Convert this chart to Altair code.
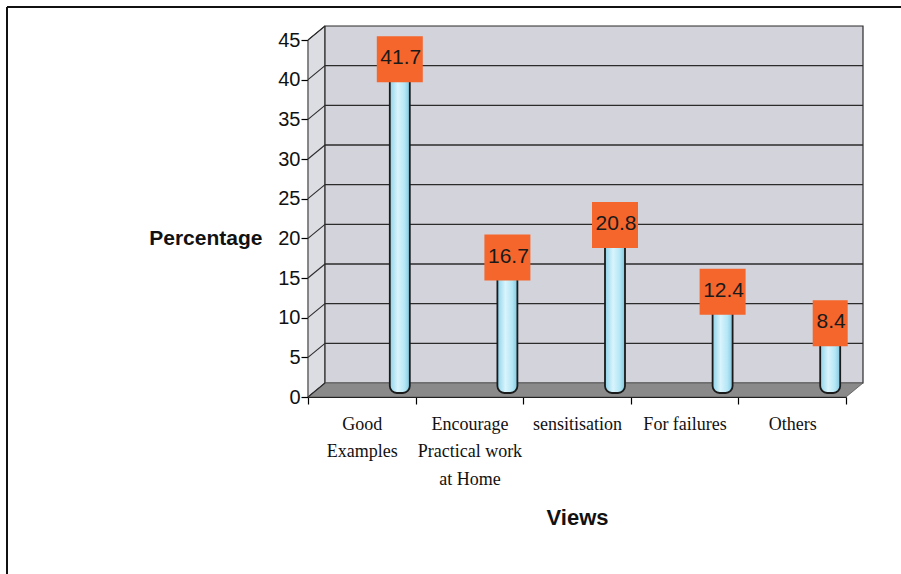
import json
import altair as alt
import pandas as pd

# ---- data -------------------------------------------------------------
categories = ["Good Examples", "Encourage Practical work at Home",
              "sensitisation", "For failures", "Others"]
label_lines = [["Good", "Examples"],
               ["Encourage", "Practical work", "at Home"],
               ["sensitisation"],
               ["For failures"],
               ["Others"]]
percentages = [41.7, 16.7, 20.8, 12.4, 8.4]
y_ticks = [0, 5, 10, 15, 20, 25, 30, 35, 40, 45]

# ---- geometry of the pseudo-3D box -------------------------------------
W, H = 538, 357           # plot area (front plane)
N = len(categories)
Y_MAX = 45
XU = W / N                # px per category slot
YU = H / Y_MAX            # px per percentage point
DEPTH_X, DEPTH_Y = 17, 14  # depth shift of the back wall, px
dxu, dyu = DEPTH_X / XU, DEPTH_Y / YU
BAR_SHIFT = 38            # bars sit toward the back-right of each slot
MID_Y = -DEPTH_Y / 2      # bars stand at mid depth

bars = pd.DataFrame({
    "category": categories,
    "pos": [i + 0.5 for i in range(N)],
    "value": percentages,
    "zero": [0] * N,
    "label": [f"{v:.1f}" for v in percentages],
})
ticks_df = pd.DataFrame({"v": y_ticks, "v2": [t + dyu for t in y_ticks],
                         "x0": [0] * len(y_ticks), "x1": [dxu] * len(y_ticks),
                         "xn": [N] * len(y_ticks)})
bounds_df = pd.DataFrame({"b": list(range(N + 1))})

x_scale = alt.Scale(domain=[0, N], nice=False, zero=False, padding=0)
y_scale = alt.Scale(domain=[0, Y_MAX], nice=False, padding=0)

SANS = "Liberation Sans"
SERIF = "Liberation Serif"
WALL = "#D3D3DB"
SIDE = "#DCDCE3"
FLOOR = "#8A8A8A"
EDGE = "#2b2b2b"
ORANGE = "#F5662D"

lookup = json.dumps(label_lines)

X = lambda f: alt.X(f, scale=x_scale, axis=None)
Y = lambda f: alt.Y(f, scale=y_scale, axis=None)

# left side wall (parallelogram)
side_wall = alt.Chart(pd.DataFrame({
    "x": [0, dxu], "y": [Y_MAX, Y_MAX + dyu], "y2": [0, dyu]
})).mark_area(color=SIDE, stroke=EDGE, strokeWidth=1).encode(
    x=X("x:Q"), y=Y("y:Q"), y2="y2:Q",
)

# back wall
back_wall = alt.Chart(pd.DataFrame({"x": [0], "x2": [N], "y": [0], "y2": [Y_MAX]})).mark_rect(
    color=WALL, stroke=EDGE, strokeWidth=1.2,
    xOffset=DEPTH_X, x2Offset=DEPTH_X, yOffset=-DEPTH_Y, y2Offset=-DEPTH_Y,
).encode(x=X("x:Q"), x2="x2:Q", y=Y("y:Q"), y2="y2:Q")

# floor
floor = alt.Chart(pd.DataFrame({
    "x": [0, dxu, N, N + dxu], "y": [0, dyu, dyu, dyu], "y2": [0, 0, 0, dyu]
})).mark_area(color=FLOOR, stroke="#555555", strokeWidth=0.8).encode(
    x=X("x:Q"), y=Y("y:Q"), y2="y2:Q",
)

# gridlines on the back wall
grid_back = alt.Chart(ticks_df).transform_filter(
    (alt.datum.v > 0) & (alt.datum.v < Y_MAX)
).mark_rule(
    color=EDGE, strokeWidth=1.3,
    xOffset=DEPTH_X, x2Offset=DEPTH_X, yOffset=-DEPTH_Y, y2Offset=-DEPTH_Y,
).encode(x=X("x0:Q"), x2="xn:Q", y=Y("v:Q"))

# gridlines on the side wall
grid_side = alt.Chart(ticks_df).mark_rule(color=EDGE, strokeWidth=1.1).encode(
    x=X("x0:Q"), x2="x1:Q", y=Y("v:Q"), y2="v2:Q",
)

# cylinders
cyl_fill = alt.LinearGradient(
    gradient="linear", x1=0, x2=1, y1=0, y2=0,
    stops=[alt.GradientStop(color="#8ED3EA", offset=0),
           alt.GradientStop(color="#D9F4FC", offset=0.4),
           alt.GradientStop(color="#B3E6F5", offset=0.75),
           alt.GradientStop(color="#7FC6DF", offset=1)],
)
bar_layer = alt.Chart(bars).mark_bar(
    width=20, color=cyl_fill, stroke="#1a1a1a", strokeWidth=1.8,
    cornerRadiusBottomLeft=7, cornerRadiusBottomRight=7,
    xOffset=BAR_SHIFT, x2Offset=BAR_SHIFT, yOffset=MID_Y + 3, y2Offset=MID_Y + 3,
).encode(x=X("pos:Q"), y=Y("value:Q"), y2="zero:Q")


def label_box(width, wide):
    test = "length(datum.label) > 3" if wide else "length(datum.label) <= 3"
    return alt.Chart(bars).transform_filter(test).mark_rect(
        color=ORANGE,
        xOffset=BAR_SHIFT - width / 2, x2Offset=BAR_SHIFT + width / 2,
        yOffset=MID_Y - 23, y2Offset=MID_Y + 23,
    ).encode(x=X("pos:Q"), x2="pos:Q", y=Y("value:Q"), y2="value:Q")


label_text = alt.Chart(bars).mark_text(
    font=SANS, fontSize=21, color="#1a1a1a", baseline="middle", align="center",
    dx=BAR_SHIFT + 1, dy=MID_Y - 1,
).encode(x=X("pos:Q"), y=Y("value:Q"), text="label:N")

# front axes (drawn by a layer with the real axis definitions)
axes_layer = alt.Chart(bounds_df).mark_point(opacity=0).encode(
    x=alt.X("b:Q", scale=x_scale, title="Views", axis=alt.Axis(
        values=list(range(N + 1)), tickSize=7, tickColor="#000", tickWidth=1.2,
        domainColor="#000", domainWidth=1.2, grid=False,
        labelOffset=XU / 2, labelExpr=f"({lookup})[datum.value] || ''",
        labelFont=SERIF, labelFontSize=18, labelColor="#111", labelLineHeight=27.5,
        labelBaseline="top", labelPadding=11, labelFlush=False, labelOverlap=False,
        labelBound=False,
        titleFont=SANS, titleFontSize=22, titleFontWeight="bold", titleColor="#111",
        titleX=269, titleY=120, titleAlign="center", titleBaseline="middle",
    )),
    y=alt.Y("b:Q", scale=y_scale, title="Percentage", axis=alt.Axis(
        values=y_ticks, tickSize=7, tickColor="#000", tickWidth=1.2,
        domainColor="#000", domainWidth=1.2, grid=False,
        labelFont=SANS, labelFontSize=20, labelColor="#111", labelPadding=1,
        titleFont=SANS, titleFontSize=21, titleFontWeight="bold", titleColor="#111",
        titleAngle=0, titleX=-46, titleY=YU * (Y_MAX - 20),
        titleAlign="right", titleBaseline="middle",
    )),
)

# outer frame (left and top edges of the chart object)
frame_df = pd.DataFrame({"k": [0]})
frame = alt.Chart(frame_df).mark_rule(color="#111", strokeWidth=2).encode(
    x=alt.value(-301), y=alt.value(-33), y2=alt.value(574 - 40),
)
frame_top = alt.Chart(frame_df).mark_rule(color="#111", strokeWidth=2).encode(
    x=alt.value(-301), x2=alt.value(901 - 308), y=alt.value(-33),
)

chart = alt.layer(
    side_wall, back_wall, floor, grid_back, grid_side,
    bar_layer, label_box(46, True), label_box(35, False), label_text,
    axes_layer, frame, frame_top,
).resolve_axis(x="independent", y="independent").properties(
    width=W, height=H,
    padding={"left": 308, "top": 40, "right": 901 - 308 - W, "bottom": 574 - 40 - H},
    autosize=alt.AutoSizeParams(type="none"),
    background="white",
).configure_view(stroke=None)

chart.save("out.html", embed_options={"renderer": "svg", "actions": False})
